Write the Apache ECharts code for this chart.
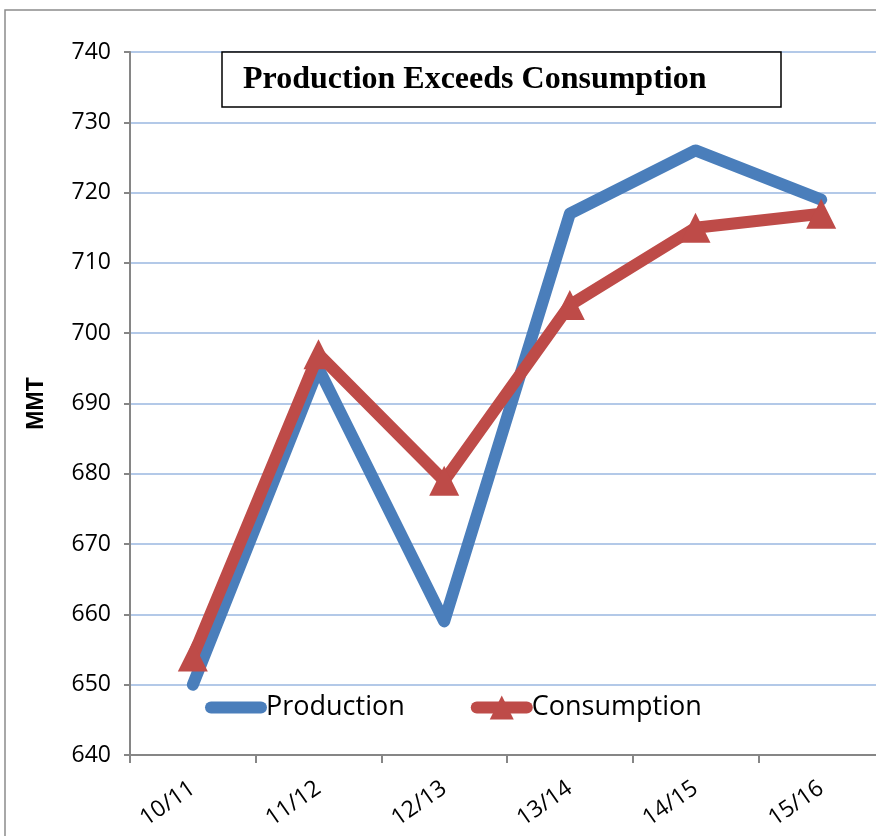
<!DOCTYPE html>
<html><head><meta charset="utf-8">
<script src="https://cdn.jsdelivr.net/npm/echarts@6/dist/echarts.min.js"></script>
<style>html,body{margin:0;padding:0;background:#fff}#c{width:876px;height:836px}</style>
</head><body><div id="c"></div>
<script>
const categories = ['10/11','11/12','12/13','13/14','14/15','15/16'];
const production = [650, 695, 659, 717, 726, 719];
const consumption = [654, 697, 679, 704, 715, 717];
const yTicks = {min: 640, max: 740, interval: 10};
const titleText = 'Production Exceeds Consumption';

const chart = echarts.init(document.getElementById('c'));
chart.setOption({
  animation: false,
  backgroundColor: '#fff',
  grid: {left: 130, top: 52, height: 703, width: 754, containLabel: false, outerBoundsMode: 'none'},
  graphic: [
    {type: 'rect', shape: {x: 5, y: 10, width: 900, height: 900}, style: {fill: 'none', stroke: '#8c8c8c', lineWidth: 1.5}, z: 0},
    {type: 'rect', shape: {x: 222, y: 52, width: 559, height: 55}, style: {fill: '#fff', stroke: '#000', lineWidth: 1.5}, z: 10},
    {type: 'text', left: 243, top: 64, style: {text: titleText, font: 'bold 32px "Liberation Serif"', fill: '#000'}, z: 11}
  ],
  legend: {
    left: 205, top: 694, padding: 0,
    itemWidth: 50, itemHeight: 30, itemGap: 66,
    textStyle: {fontFamily: 'Open Sans', fontSize: 27, color: '#000'},
    lineStyle: {width: 12, cap: 'round'},
    data: [{name: 'Production', itemStyle: {opacity: 0}}, {name: 'Consumption'}]
  },
  xAxis: {
    type: 'category', data: categories, boundaryGap: true,
    axisLine: {lineStyle: {color: '#868686', width: 2}},
    axisTick: {show: true, length: 8, lineStyle: {color: '#868686', width: 2}},
    axisLabel: {rotate: 35, color: '#000', fontFamily: 'Open Sans', fontSize: 23, margin: 31},
    splitLine: {show: false}
  },
  yAxis: {
    type: 'value', min: yTicks.min, max: yTicks.max, interval: yTicks.interval,
    name: 'MMT', nameLocation: 'middle', nameGap: 82, nameRotate: 90,
    nameTextStyle: {fontFamily: 'Liberation Sans', fontWeight: 'bold', fontSize: 23, color: '#000'},
    axisLine: {show: true, lineStyle: {color: '#868686', width: 2}},
    axisTick: {show: true, length: 6, lineStyle: {color: '#868686', width: 2}},
    axisLabel: {color: '#000', fontFamily: 'Open Sans', fontSize: 23, margin: 19},
    splitLine: {show: true, lineStyle: {color: '#b3c9e8', width: 2}}
  },
  series: [
    {name: 'Production', type: 'line', data: production, showSymbol: false, symbol: 'none',
     lineStyle: {color: '#4a7ebb', width: 12, cap: 'round', join: 'round'}, itemStyle: {color: '#4a7ebb'}, z: 2},
    {name: 'Consumption', type: 'line', data: consumption, symbol: 'triangle', symbolSize: 30,
     lineStyle: {color: '#be4b48', width: 12, join: 'round'}, itemStyle: {color: '#be4b48'}, z: 3}
  ]
});
</script></body></html>
